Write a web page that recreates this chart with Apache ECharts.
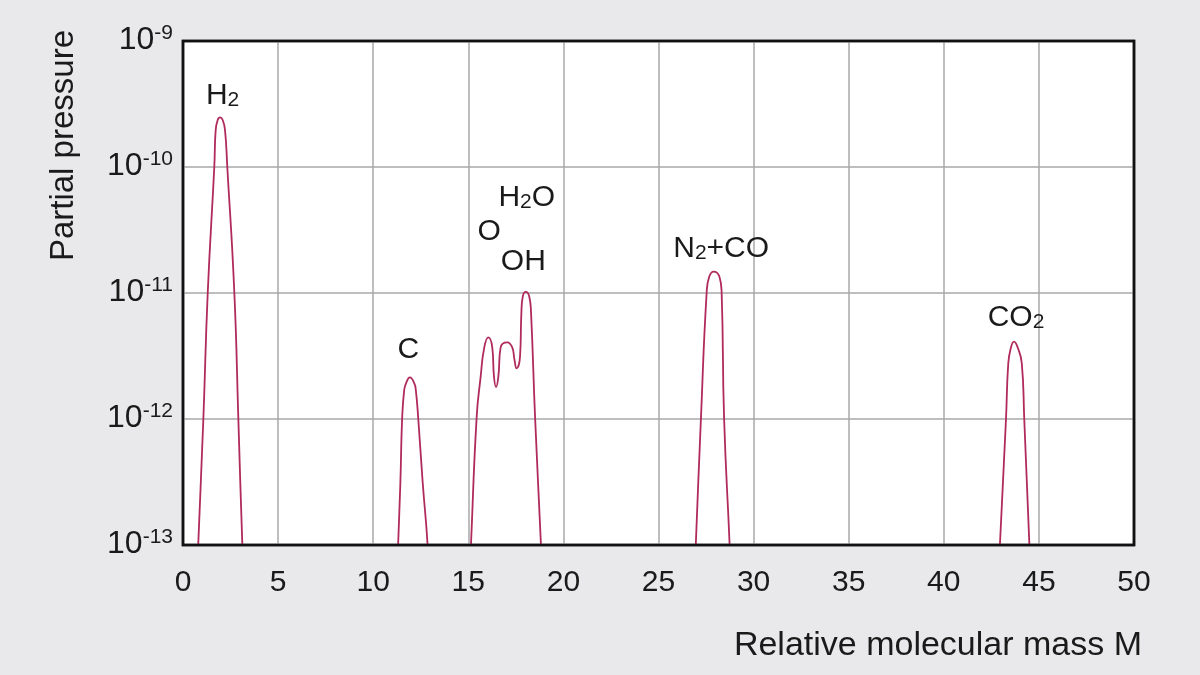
<!DOCTYPE html>
<html><head><meta charset="utf-8">
<script src="https://cdn.jsdelivr.net/npm/echarts@6/dist/echarts.min.js"></script>
<style>html,body{margin:0;padding:0;background:#e9e9eb}#c{width:1200px;height:675px}</style>
</head><body><div id="c"></div>
<script>
// Relative molecular mass M vs partial pressure
const peakH2 = [[0.55,1e-14],[0.80,1e-13],[1.07,1e-12],[1.30,1e-11],[1.645,1e-10],[1.719,1.97e-10],[1.824,2.36e-10],[1.95,2.48e-10],[2.087,2.36e-10],[2.208,1.97e-10],[2.329,1e-10],[2.70,1e-11],[2.91,1e-12],[3.12,1e-13],[3.37,1e-14]];
const peakC = [[11.10,1e-14],[11.31,1e-13],[11.43,3.16e-13],[11.52,1e-12],[11.63,1.70e-12],[11.725,1.92e-12],[11.93,2.14e-12],[12.16,1.92e-12],[12.24,1.70e-12],[12.37,1e-12],[12.60,3.16e-13],[12.86,1e-13],[13.20,1e-14]];
const peakWater = [[14.85,1e-14],[15.14,1e-13],[15.44,1.04e-12],[15.65,2.17e-12],[15.84,3.7e-12],[16.05,4.45e-12],[16.26,3.7e-12],[16.35,2.17e-12],[16.46,1.79e-12],[16.58,2.17e-12],[16.70,3.7e-12],[17.05,4.06e-12],[17.31,3.7e-12],[17.42,3.0e-12],[17.54,2.52e-12],[17.72,3.13e-12],[17.79,6.9e-12],[17.86,9.3e-12],[18.02,1.02e-11],[18.21,9.3e-12],[18.30,6.9e-12],[18.51,1.04e-12],[18.82,1e-13],[19.10,1e-14]];
const peakN2CO = [[26.70,1e-14],[26.96,1e-13],[27.23,1e-12],[27.53,1e-11],[27.67,1.35e-11],[27.90,1.48e-11],[28.20,1.35e-11],[28.32,1e-11],[28.45,1e-12],[28.74,1e-13],[29.00,1e-14]];
const peakCO2 = [[42.65,1e-14],[42.95,1e-13],[43.27,1e-12],[43.39,2.77e-12],[43.52,3.64e-12],[43.69,4.11e-12],[43.90,3.64e-12],[44.10,2.77e-12],[44.23,1e-12],[44.50,1e-13],[44.78,1e-14]];

const peakNames = ['H2','C','O/OH/H2O','N2+CO','CO2'];
const peakSets = [peakH2, peakC, peakWater, peakN2CO, peakCO2];

const labelTexts = ['{a|H}{s|2}', '{a|C}', '{a|O}', '{a|OH}', '{a|H}{s|2}{a|O}', '{a|N}{s|2}{a|+CO}', '{a|CO}{s|2}'];
const labelMasses = [2, 12, 16, 17, 18, 28, 44];
const labelOffsets = [[2.5,-22],[-1.5,-28],[1,-106],[16,-81],[1,-94],[7.5,-23],[2,-24]];

const xMin = 0, xMax = 50, xStep = 5;
const yMin = 1e-13, yMax = 1e-9;

const FONT = '"Liberation Sans", Arial, Helvetica, sans-serif';
const LINE = '#b02a5c';
const INK = '#1a1a1a';

function localMax(data, mass) {
  let best = null;
  data.forEach(p => {
    if (Math.abs(p[0] - mass) <= 0.6 && (!best || p[1] > best[1])) best = p;
  });
  return best;
}

const series = peakSets.map((data, i) => {
  const marks = [];
  labelMasses.forEach((m, j) => {
    const p = localMax(data, m);
    if (p) marks.push({
      coord: [p[0], p[1]],
      label: { show: true, formatter: labelTexts[j], offset: labelOffsets[j] }
    });
  });
  return {
    name: peakNames[i], type: 'line', data, smooth: 0.5, showSymbol: false,
    lineStyle: { color: LINE, width: 1.8 }, itemStyle: { color: LINE },
    clip: true, silent: true,
    markPoint: {
      symbol: 'circle', symbolSize: 0, silent: true,
      label: {
        show: true, position: 'inside', color: INK, fontFamily: FONT,
        rich: {
          a: { fontSize: 30, lineHeight: 30, fontFamily: FONT, color: INK, verticalAlign: 'top' },
          s: { fontSize: 21, lineHeight: 21, fontFamily: FONT, color: INK, verticalAlign: 'bottom', padding: [20,0,0,0] }
        }
      },
      data: marks
    }
  };
});

const chart = echarts.init(document.getElementById('c'), null, { renderer: 'canvas' });
chart.setOption({
  animation: false,
  backgroundColor: '#e9e9eb',
  grid: { left: 183, right: 66, top: 41, bottom: 130, show: true, backgroundColor: '#ffffff', borderColor: '#111111', borderWidth: 2.5, z: 0 },
  xAxis: {
    type: 'value', min: xMin, max: xMax, interval: xStep,
    name: 'Relative molecular mass M', nameLocation: 'end', nameGap: 8, nameMoveOverlap: false,
    nameTextStyle: { fontFamily: FONT, fontSize: 34, color: INK, align: 'right', verticalAlign: 'top', padding: [84,0,0,0] },
    axisLine: { show: false }, axisTick: { show: false },
    axisLabel: { fontFamily: FONT, fontSize: 30, color: INK, margin: 23 },
    splitLine: { show: true, showMinLine: false, showMaxLine: false, lineStyle: { color: '#a8a8a8', width: 1.5 } }
  },
  yAxis: {
    type: 'log', logBase: 10, min: yMin, max: yMax,
    name: 'Partial pressure', nameLocation: 'end', nameRotate: 90, nameGap: 11, nameMoveOverlap: false,
    nameTextStyle: { fontFamily: FONT, fontSize: 33, color: INK, align: 'right', verticalAlign: 'bottom', padding: [0,0,103,0] },
    axisLine: { show: false }, axisTick: { show: false },
    axisLabel: {
      margin: 10, padding: [0,0,3,0],
      formatter: v => '{b|10}{sup|' + Math.round(Math.log10(v)) + '}',
      rich: {
        b: { fontFamily: FONT, fontSize: 32, lineHeight: 33, color: INK, verticalAlign: 'bottom' },
        sup: { fontFamily: FONT, fontSize: 21, lineHeight: 21, color: INK, verticalAlign: 'top' }
      }
    },
    splitLine: { show: true, showMinLine: false, showMaxLine: false, lineStyle: { color: '#a8a8a8', width: 1.5 } }
  },
  series
});

// black frame drawn over the plot area edges (computed from the axes)
const tl = chart.convertToPixel({ gridIndex: 0 }, [xMin, yMax]);
const br = chart.convertToPixel({ gridIndex: 0 }, [xMax, yMin]);
chart.setOption({
  graphic: [{
    type: 'rect', silent: true, z: 100,
    shape: { x: tl[0], y: tl[1], width: br[0] - tl[0], height: br[1] - tl[1] },
    style: { fill: null, stroke: '#111111', lineWidth: 2.5 }
  }]
});
</script></body></html>
